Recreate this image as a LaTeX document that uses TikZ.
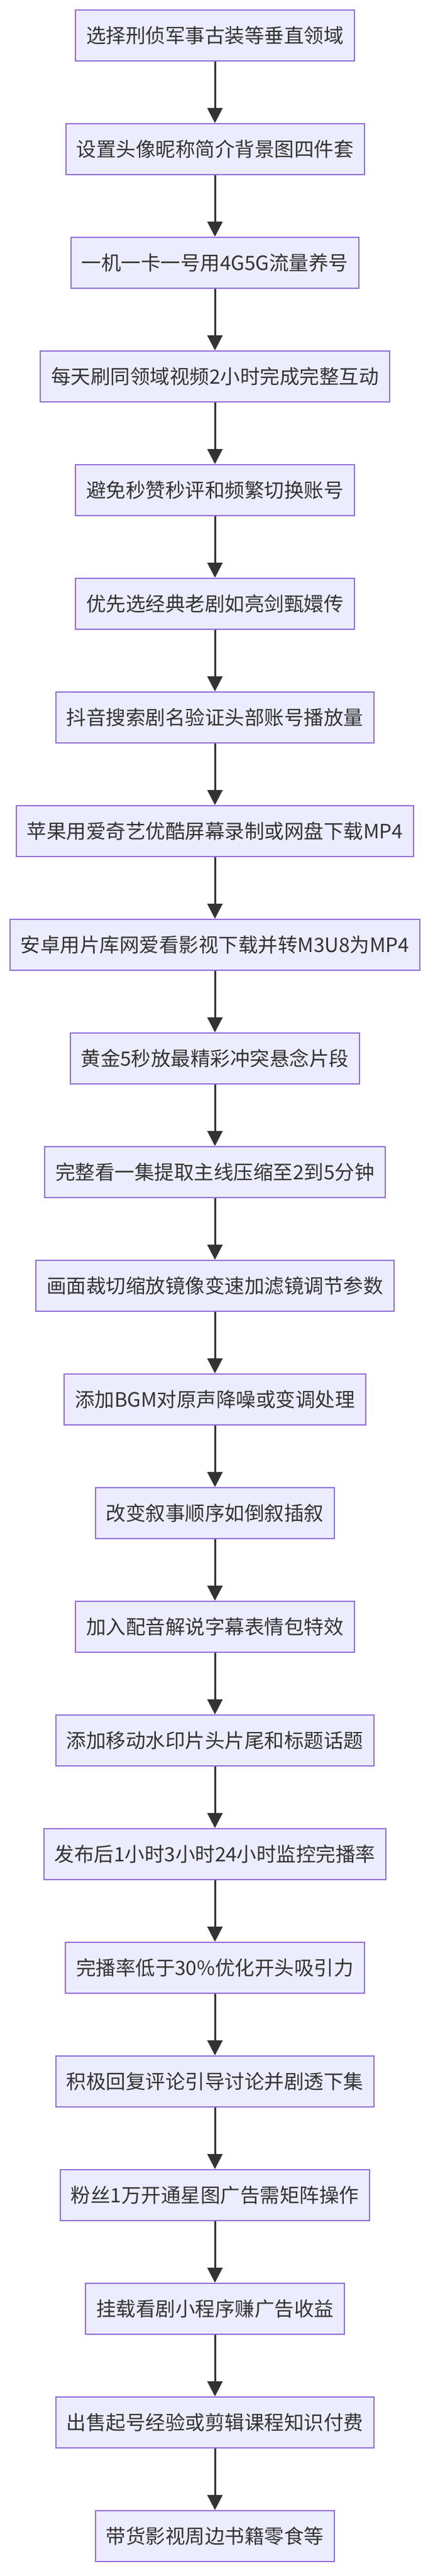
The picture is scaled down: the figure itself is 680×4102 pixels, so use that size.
\documentclass[tikz,border=0pt]{standalone}
\usepackage{fontspec}
\setmainfont{Noto Sans CJK SC}
\usetikzlibrary{arrows.meta}
\definecolor{boxfill}{HTML}{ECECFF}
\definecolor{boxline}{HTML}{9370DB}
\definecolor{arr}{HTML}{333333}
\begin{document}
\begin{tikzpicture}[x=1pt,y=-1pt,
  box/.style={draw=boxline,fill=boxfill,line width=2pt,minimum height=81pt,inner xsep=17pt,inner ysep=0pt,text=arr,font=\fontsize{31.5}{33}\selectfont},
  link/.style={draw=arr,line width=3pt,-{Triangle[length=24pt,width=24pt]}}]
\useasboundingbox (0,0) rectangle (680,4102);
\foreach \t [count=\i from 0] in {选择刑侦军事古装等垂直领域,设置头像昵称简介背景图四件套,一机一卡一号用4G5G流量养号,每天刷同领域视频2小时完成完整互动,避免秒赞秒评和频繁切换账号,优先选经典老剧如亮剑甄嬛传,抖音搜索剧名验证头部账号播放量,苹果用爱奇艺优酷屏幕录制或网盘下载MP4,安卓用片库网爱看影视下载并转M3U8为MP4,黄金5秒放最精彩冲突悬念片段,完整看一集提取主线压缩至2到5分钟,画面裁切缩放镜像变速加滤镜调节参数,添加BGM对原声降噪或变调处理,改变叙事顺序如倒叙插叙,加入配音解说字幕表情包特效,添加移动水印片头片尾和标题话题,发布后1小时3小时24小时监控完播率,完播率低于30\%优化开头吸引力,积极回复评论引导讨论并剧透下集,粉丝1万开通星图广告需矩阵操作,挂载看剧小程序赚广告收益,出售起号经验或剪辑课程知识付费,带货影视周边书籍零食等}{
  \node[box] (n\i) at (342,{56.5+181*\i}) {\t};
}
\foreach \i [evaluate=\i as \j using int(\i+1)] in {0,...,21}{
  \draw[link] (n\i) -- (n\j);
}
\end{tikzpicture}
\end{document}
